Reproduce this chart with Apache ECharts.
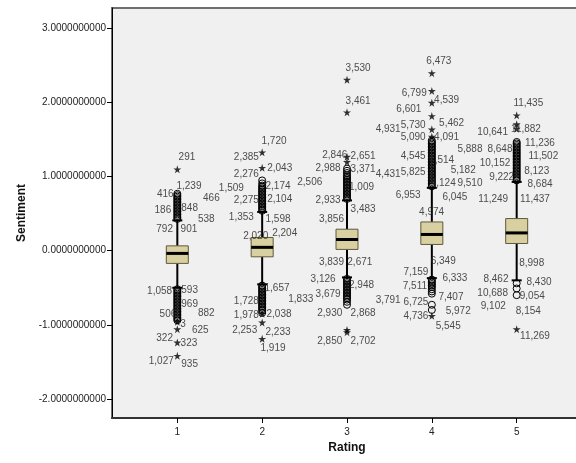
<!DOCTYPE html>
<html>
<head>
<meta charset="utf-8">
<script src="https://cdn.jsdelivr.net/npm/echarts@6/dist/echarts.min.js"></script>
<style>
  html, body { margin: 0; padding: 0; background: #fff; }
  #chart-dev { width: 576px; height: 463px; }
</style>
</head>
<body>
<div id="chart-dev"></div>
<script>
var ratings = [1, 2, 3, 4, 5];
var whiskerLow = [-0.50, -0.454, -0.36, -0.37, -0.40];
var q1 = [-0.171, -0.082, 0.018, 0.085, 0.098];
var median = [-0.036, 0.046, 0.152, 0.22, 0.241];
var q3 = [0.066, 0.179, 0.291, 0.389, 0.435];
var whiskerHigh = [0.41, 0.524, 0.68, 0.85, 0.93];

// circles (outliers), per rating
var outliersHigh = [
    [0.43, 0.45, 0.47, 0.49, 0.51, 0.53, 0.55, 0.57, 0.59, 0.61, 0.63, 0.65, 0.67, 0.69, 0.71, 0.73, 0.75, 0.77],
    [0.54, 0.56, 0.58, 0.60, 0.62, 0.64, 0.66, 0.68, 0.70, 0.72, 0.74, 0.76, 0.78, 0.80, 0.82, 0.84, 0.86, 0.88, 0.91, 0.95],
    [0.70, 0.72, 0.74, 0.76, 0.78, 0.80, 0.82, 0.84, 0.86, 0.88, 0.90, 0.92, 0.94, 0.96, 0.98, 1.00, 1.02, 1.05, 1.08, 1.11],
    [0.87, 0.89, 0.91, 0.93, 0.95, 0.97, 0.99, 1.01, 1.03, 1.05, 1.07, 1.09, 1.11, 1.13, 1.15, 1.17, 1.19, 1.21, 1.23, 1.25, 1.27, 1.29, 1.31, 1.33, 1.35, 1.37, 1.39, 1.41, 1.43, 1.45, 1.47, 1.49],
    [0.95, 0.97, 0.99, 1.01, 1.03, 1.05, 1.07, 1.09, 1.11, 1.13, 1.15, 1.17, 1.19, 1.21, 1.23, 1.25, 1.27, 1.29, 1.31, 1.33, 1.35, 1.37, 1.39, 1.41, 1.43, 1.45, 1.47]
];
var outliersLow = [
    [-0.52, -0.54, -0.56, -0.58, -0.60, -0.62, -0.64, -0.66, -0.68, -0.70, -0.72, -0.74, -0.76, -0.78, -0.80, -0.82, -0.84, -0.86, -0.88, -0.90, -0.92, -0.94],
    [-0.47, -0.49, -0.51, -0.53, -0.55, -0.57, -0.59, -0.61, -0.63, -0.65, -0.67, -0.69, -0.71, -0.73, -0.75, -0.77, -0.79, -0.81, -0.84],
    [-0.38, -0.40, -0.42, -0.44, -0.46, -0.48, -0.50, -0.52, -0.54, -0.56, -0.58, -0.60, -0.62, -0.64, -0.66, -0.69, -0.73],
    [-0.39, -0.41, -0.43, -0.45, -0.47, -0.49, -0.52, -0.55, -0.58, -0.73, -0.80],
    [-0.44, -0.51, -0.60]
];
// stars (extremes), per rating
var extremes = [
    [1.10, -0.96, -1.06, -1.24, -1.42],
    [1.12, 1.33, -0.85, -0.97, -1.19],
    [1.20, 1.27, 1.87, 2.31, -1.07, -1.10],
    [1.54, 1.64, 1.82, 2.00, 2.16, 2.40, -0.88],
    [1.65, 1.71, 1.83, -1.06]
];

// case labels: [x, y, case]
var caseLabels = [
    [1.113, 1.257, '291'], [1.137, 0.875, '1,239'], [0.858, 0.759, '416'], [1.401, 0.705, '466'],
    [0.830, 0.547, '186'], [1.145, 0.578, '848'], [1.342, 0.422, '538'], [0.850, 0.287, '792'],
    [1.137, 0.287, '901'], [0.791, -0.554, '1,058'], [1.145, -0.531, '593'], [1.145, -0.720, '969'],
    [1.342, -0.845, '882'], [0.889, -0.858, '506'], [1.066, -0.989, '3'], [1.271, -1.070, '625'],
    [0.850, -1.182, '322'], [1.137, -1.249, '323'], [0.811, -1.497, '1,027'], [1.145, -1.532, '935'],

    [2.140, 1.481, '1,720'], [1.814, 1.257, '2,385'], [2.207, 1.109, '2,043'], [1.814, 1.032, '2,276'],
    [1.637, 0.848, '1,509'], [2.187, 0.875, '2,174'], [1.814, 0.682, '2,275'], [2.207, 0.695, '2,104'],
    [1.755, 0.457, '1,353'], [2.187, 0.422, '1,598'], [1.924, 0.201, '2,020'], [2.266, 0.241, '2,204'],
    [2.175, -0.508, '1,657'], [1.814, -0.679, '1,728'], [2.455, -0.656, '1,833'], [1.814, -0.868, '1,978'],
    [2.199, -0.854, '2,038'], [1.794, -1.080, '2,253'], [2.187, -1.097, '2,233'], [2.128, -1.317, '1,919'],

    [3.131, 2.465, '3,530'], [3.131, 2.016, '3,461'], [2.856, 1.288, '2,846'], [3.190, 1.279, '2,651'],
    [2.777, 1.109, '2,988'], [3.190, 1.100, '3,371'], [2.561, 0.929, '2,506'], [3.171, 0.853, '1,009'],
    [2.777, 0.682, '2,933'], [3.190, 0.561, '3,483'], [2.817, 0.422, '3,856'], [2.817, -0.150, '3,839'],
    [3.151, -0.150, '2,671'], [2.718, -0.387, '3,126'], [3.171, -0.473, '2,948'], [2.777, -0.585, '3,679'],
    [2.797, -0.845, '2,930'], [3.190, -0.845, '2,868'], [2.797, -1.228, '2,850'], [3.190, -1.228, '2,702'],

    [4.083, 2.555, '6,473'], [3.792, 2.133, '6,799'], [4.174, 2.030, '4,539'], [3.729, 1.908, '6,601'],
    [3.780, 1.702, '5,730'], [4.233, 1.724, '5,462'], [3.485, 1.648, '4,931'], [3.780, 1.527, '5,090'],
    [4.174, 1.535, '4,091'], [4.449, 1.369, '5,888'], [3.780, 1.275, '4,545'], [4.115, 1.221, '4,514'],
    [4.370, 1.086, '5,182'], [3.485, 1.028, '4,431'], [3.780, 1.063, '5,825'], [4.134, 0.907, '4,124'],
    [4.449, 0.907, '9,510'], [3.721, 0.749, '6,953'], [4.272, 0.726, '6,045'], [3.997, 0.516, '4,974'],
    [4.134, -0.140, '6,349'], [3.812, -0.284, '7,159'], [4.272, -0.365, '6,333'], [3.800, -0.477, '7,511'],
    [4.225, -0.629, '7,407'], [3.485, -0.666, '3,791'], [3.812, -0.697, '6,725'], [4.311, -0.814, '5,972'],
    [3.812, -0.891, '4,736'], [4.193, -1.016, '5,545'],

    [5.137, 1.999, '11,435'], [4.717, 1.602, '10,641'], [5.110, 1.648, '11,882'], [5.275, 1.454, '11,236'],
    [4.803, 1.365, '8,648'], [5.314, 1.275, '11,502'], [4.744, 1.177, '10,152'], [5.236, 1.077, '8,123'],
    [4.823, 0.996, '9,222'], [5.275, 0.898, '8,684'], [4.724, 0.691, '11,249'], [5.216, 0.691, '11,437'],
    [5.177, -0.171, '8,998'], [4.756, -0.383, '8,462'], [5.263, -0.427, '8,430'], [4.717, -0.575, '10,688'],
    [5.184, -0.621, '9,054'], [4.724, -0.756, '9,102'], [5.137, -0.814, '8,154'], [5.216, -1.160, '11,269']
];

var yTicks = [-2, -1, 0, 1, 2, 3];

var boxData = ratings.map(function (r, i) {
    return [r, whiskerLow[i], q1[i], median[i], q3[i], whiskerHigh[i]];
});
var circlePts = [];
var starPts = [];
ratings.forEach(function (r, i) {
    outliersHigh[i].forEach(function (v) { circlePts.push([r, v]); });
    outliersLow[i].forEach(function (v) { circlePts.push([r, v]); });
    extremes[i].forEach(function (v) { starPts.push([r, v]); });
});

var dom = document.getElementById('chart-dev');
var myChart = echarts.init(dom, null, { renderer: 'canvas' });

var font = 'Liberation Sans, Arial, sans-serif';

var option = {
    animation: false,
    backgroundColor: '#fff',
    grid: {
        show: true,
        left: 112,
        top: 8,
        width: 470,
        height: 410,
        outerBoundsMode: 'none',
        containLabel: false,
        backgroundColor: '#f0f0f0',
        borderColor: '#6f6f6f',
        borderWidth: 2
    },
    xAxis: {
        type: 'value',
        min: 0.23,
        max: 5.77,
        name: 'Rating',
        nameLocation: 'middle',
        nameGap: 24,
        nameTextStyle: { fontFamily: font, fontWeight: 'bold', fontSize: 12, color: '#111' },
        axisLine: { show: true, onZero: false, lineStyle: { color: '#333', width: 2 } },
        axisTick: { show: true, customValues: ratings, length: 5, lineStyle: { color: '#000' } },
        axisLabel: { customValues: ratings, fontFamily: font, fontSize: 10, color: '#222', margin: 9 },
        splitLine: { show: false }
    },
    yAxis: {
        type: 'value',
        min: -2.26,
        max: 3.28,
        name: 'Sentiment',
        nameLocation: 'middle',
        nameRotate: 90,
        nameGap: 84,
        nameTextStyle: { fontFamily: font, fontWeight: 'bold', fontSize: 12, color: '#111' },
        axisLine: { show: true, onZero: false, lineStyle: { color: '#000', width: 1 } },
        axisTick: { show: true, customValues: yTicks, length: 5, lineStyle: { color: '#000' } },
        axisLabel: {
            customValues: yTicks,
            fontFamily: font, fontSize: 10, color: '#222', margin: 6,
            formatter: function (v) { return v.toFixed(10); }
        },
        splitLine: { show: false }
    },
    series: [
        {
            type: 'custom',
            data: boxData,
            encode: { x: 0, y: [1, 2, 3, 4, 5] },
            silent: true,
            z: 2,
            renderItem: function (params, api) {
                var x = api.value(0);
                var lo = api.coord([x, api.value(1)]);
                var b1 = api.coord([x, api.value(2)]);
                var m = api.coord([x, api.value(3)]);
                var b3 = api.coord([x, api.value(4)]);
                var hi = api.coord([x, api.value(5)]);
                var hw = 11, cw = 5;
                var ws = { stroke: '#000', lineWidth: 2 };
                return {
                    type: 'group',
                    children: [
                        { type: 'line', shape: { x1: lo[0], y1: lo[1], x2: b1[0], y2: b1[1] }, style: ws },
                        { type: 'line', shape: { x1: hi[0], y1: hi[1], x2: b3[0], y2: b3[1] }, style: ws },
                        { type: 'line', shape: { x1: lo[0] - cw, y1: lo[1], x2: lo[0] + cw, y2: lo[1] }, style: ws },
                        { type: 'line', shape: { x1: hi[0] - cw, y1: hi[1], x2: hi[0] + cw, y2: hi[1] }, style: ws },
                        { type: 'rect', shape: { x: b1[0] - hw, y: b3[1], width: hw * 2, height: b1[1] - b3[1] },
                          style: { fill: '#d8d0a0', stroke: '#5f5a3d', lineWidth: 1 } },
                        { type: 'line', shape: { x1: m[0] - hw, y1: m[1], x2: m[0] + hw, y2: m[1] },
                          style: { stroke: '#000', lineWidth: 3 } }
                    ]
                };
            }
        },
        {
            type: 'scatter',
            data: circlePts,
            symbol: 'circle',
            symbolSize: 7,
            silent: true,
            z: 3,
            itemStyle: { color: 'rgba(0,0,0,0)', borderColor: '#000', borderWidth: 1, opacity: 1 }
        },
        {
            type: 'scatter',
            data: starPts,
            symbol: 'path://M50,0L61,35L98,35L68,57L79,91L50,70L21,91L32,57L2,35L39,35Z',
            symbolSize: 8,
            silent: true,
            z: 3,
            itemStyle: { color: '#000' }
        },
        {
            type: 'scatter',
            data: caseLabels.map(function (d) { return { value: [d[0], d[1]], name: d[2] }; }),
            symbolSize: 1,
            silent: true,
            z: 4,
            itemStyle: { color: 'rgba(0,0,0,0)' },
            label: {
                show: true,
                position: 'inside',
                formatter: '{b}',
                fontFamily: font,
                fontSize: 10,
                color: '#222'
            }
        }
    ]
};

if (option && typeof option === 'object') {
    myChart.setOption(option);
}

window.addEventListener('resize', myChart.resize);
</script>
</body>
</html>
